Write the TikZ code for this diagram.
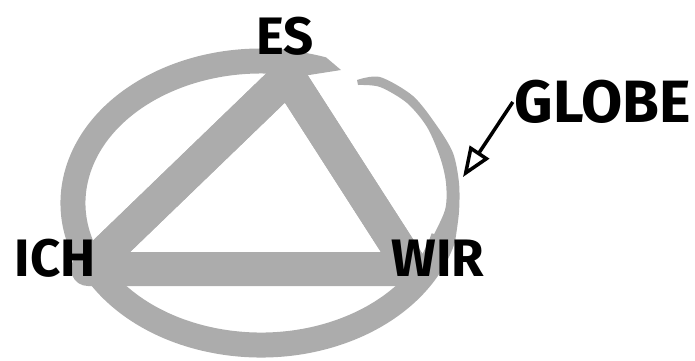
\documentclass[tikz,border=0pt]{standalone}
\usepackage{fontspec}
\setmainfont{Fira Sans}
\usetikzlibrary{arrows.meta}
\definecolor{BrushGray}{RGB}{172,172,172}

\begin{document}
\begin{tikzpicture}[x=0.02cm,y=-0.02cm, every node/.style={font=\fontsize{30}{34}\selectfont\bfseries, inner sep=1pt}]
  \useasboundingbox (0,0) rectangle (695,360);

  \coordinate (c) at (261,203);
  \draw[BrushGray, line width=0.5cm] (c) ++(14:188 and 142) arc[start angle=14, end angle=283, x radius=188, y radius=142];
  \fill[BrushGray] (c) ++(270:200 and 154) arc[start angle=270, end angle=289, x radius=200, y radius=154] -- (341,70) -- ([shift={(283:176 and 130)}]c) -- cycle;
  \fill[BrushGray] plot[smooth] coordinates {(357,80) (380,77) (413,96) (437,126) (453,153) (459,183) (459,212) (455,242)}
    -- plot[smooth] coordinates {(430,242) (445,210) (446,183) (440,157) (427,127) (407,103) (380,87) (358,85)} -- cycle;

  \coordinate (top) at (288,76);
  \coordinate (left) at (88,269);
  \coordinate (right) at (412,269);
  \draw[BrushGray, line width=0.68cm, line join=round] (top) -- (left) -- (right) -- cycle;
  \draw[BrushGray, line width=0.68cm, line join=miter] (left) -- (top) -- (right);

  \node (es) at (285,36) {ES};
  \node (ich) at (55,258) {ICH};
  \node (wir) at (438,258) {WIR};
  \node[font=\fontsize{34}{38}\selectfont\bfseries] (globe) at (603,102) {GLOBE};

  \coordinate (rim) at (463,177);
  \draw[-{Triangle[open,length=0.6cm,width=0.46cm]}, line width=2pt] (globe.west) -- (rim);
\end{tikzpicture}
\end{document}
